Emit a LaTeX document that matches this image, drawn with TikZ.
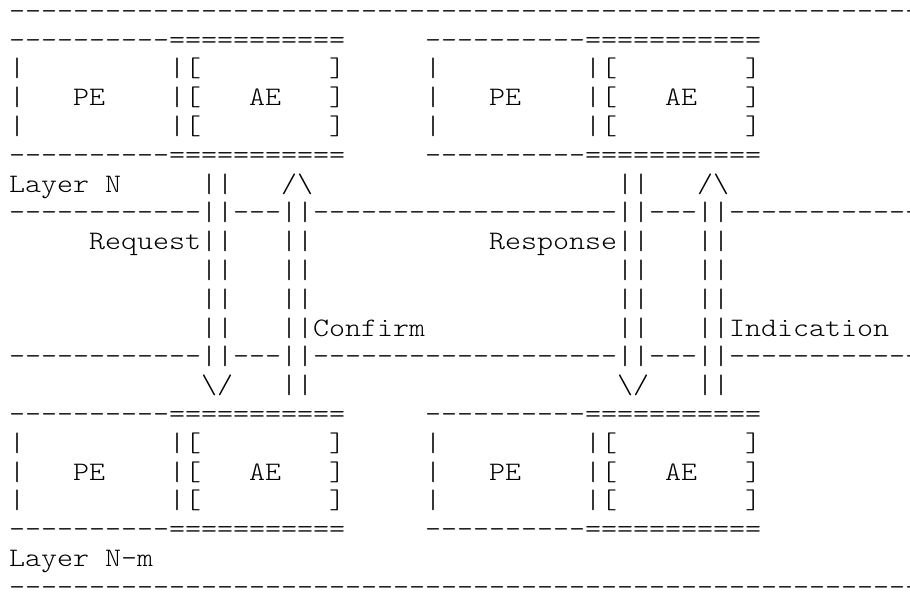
\documentclass[tikz,border=0pt]{standalone}
\usepackage{fontspec}
\setmonofont{Latin Modern Mono Light}[FakeStretch=1.1429]

\tikzset{ascii/.style={font=\ttfamily\fontsize{20}{24}\selectfont,anchor=base west,inner sep=0pt,outer sep=0pt}}

% one PE/AE box, five rows high: name, column, top row
\newcommand{\entity}[3]{%
\node[ascii] (#1top) at (#2,-#3) {----------===========};
\node[ascii] (#1a) at (#2,-#3-1) {|~~~~~~~~~|[~~~~~~~~]};
\node[ascii] (#1pe) at (#2,-#3-2) {|~~~PE~~~~|[~~~AE~~~]};
\node[ascii] (#1b) at (#2,-#3-3) {|~~~~~~~~~|[~~~~~~~~]};
\node[ascii] (#1bot) at (#2,-#3-4) {----------===========};
}

\begin{document}
\begin{tikzpicture}[x=12pt,y=21.6pt]
\path[use as bounding box] (-0.5625,0.6667) rectangle (56.3125,-20.0625);
\clip (-0.5625,0.6667) rectangle (56.3125,-20.0625);

\node[ascii] (ruletop) at (0,0) {----------------------------------------------------------};

% layer N
\entity{nleft}{0}{1}
\entity{nright}{26}{1}
\node[ascii] (layern) at (0,-6) {Layer N};
\node[ascii] (reqtop) at (12,-6) {||};
\node[ascii] (conhead) at (17,-6) {/\textbackslash};
\node[ascii] (restop) at (38,-6) {||};
\node[ascii] (indhead) at (43,-6) {/\textbackslash};

\node[ascii] (sepn) at (0,-7) {------------||---||-------------------||---||-------------};

% service primitives
\node[ascii] (request) at (5,-8) {Request||};
\node[ascii] (con1) at (17,-8) {||};
\node[ascii] (response) at (30,-8) {Response||};
\node[ascii] (ind1) at (43,-8) {||};
\foreach \r in {9,10}{
  \node[ascii] (req\r) at (12,-\r) {||};
  \node[ascii] (con\r) at (17,-\r) {||};
  \node[ascii] (res\r) at (38,-\r) {||};
  \node[ascii] (ind\r) at (43,-\r) {||};
}
\node[ascii] (req11) at (12,-11) {||};
\node[ascii] (confirm) at (17,-11) {||Confirm};
\node[ascii] (res11) at (38,-11) {||};
\node[ascii] (indication) at (43,-11) {||Indication};

\node[ascii] (sepm) at (0,-12) {------------||---||-------------------||---||-------------};

\node[ascii] (reqhead) at (12,-13) {\textbackslash/};
\node[ascii] (conbot) at (17,-13) {||};
\node[ascii] (reshead) at (38,-13) {\textbackslash/};
\node[ascii] (indbot) at (43,-13) {||};

% layer N-m
\entity{mleft}{0}{14}
\entity{mright}{26}{14}
\node[ascii] (layerm) at (0,-19) {Layer N-m};

\node[ascii] (rulebot) at (0,-20) {----------------------------------------------------------};
\end{tikzpicture}
\end{document}
